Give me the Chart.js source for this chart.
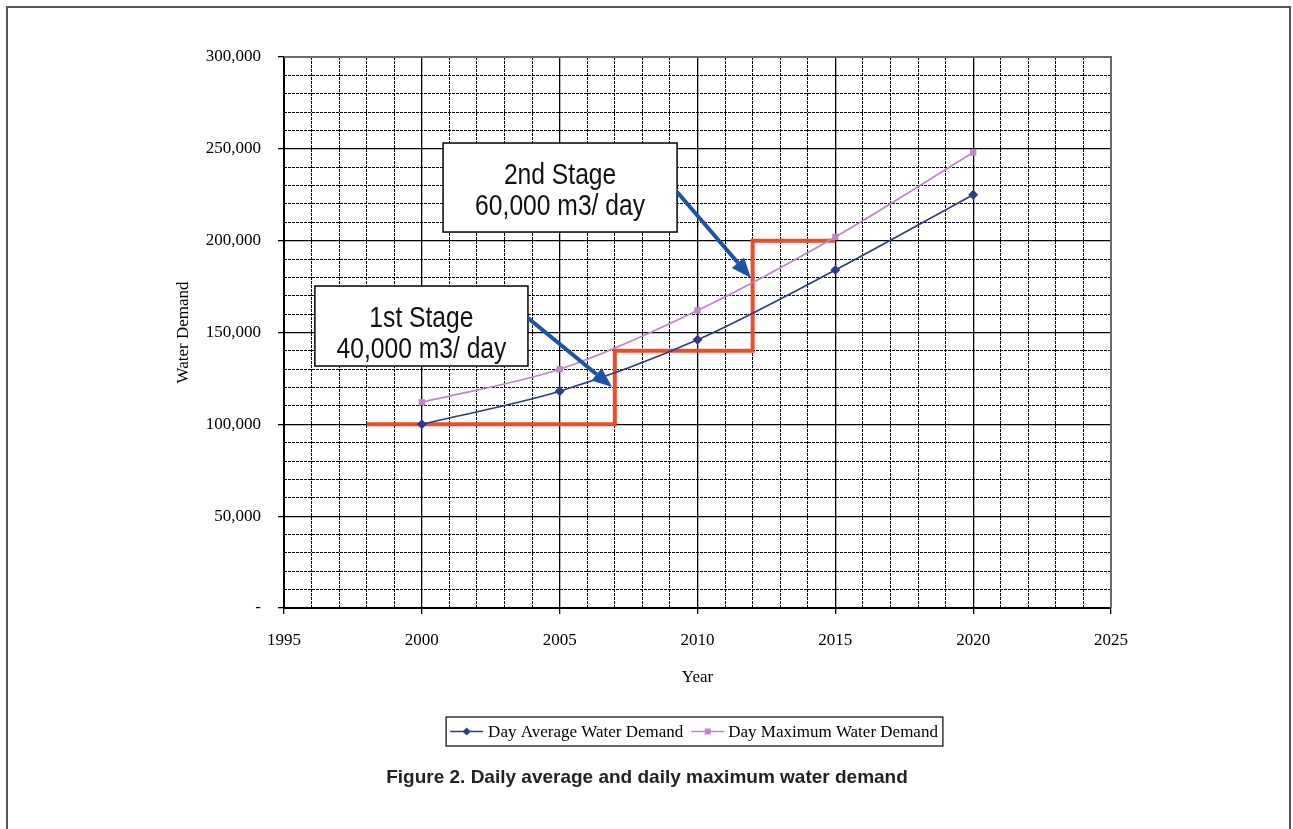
<!DOCTYPE html>
<html>
<head>
<meta charset="utf-8">
<script src="https://cdn.jsdelivr.net/npm/chart.js@4.4.1/dist/chart.umd.min.js"></script>
<style>
html, body { margin: 0; padding: 0; background: #fff; overflow: hidden; }
#wrap { position: relative; width: 1293px; height: 829px; }
</style>
</head>
<body>
<div id="wrap"><canvas id="myChart"></canvas></div>
<script>
var years = [2000, 2005, 2010, 2015, 2020];
var avgDemand = [100000, 118000, 146000, 184000, 225000];
var maxDemand = [112000, 130000, 162000, 202000, 248000];
var stageYears = [1998, 2007, 2012, 2015];
var stageCapacity = [100000, 140000, 200000, 200000];
var seriesNames = ["Day Average Water Demand", "Day Maximum Water Demand"];
var stageText = [["1st Stage", "40,000 m3/ day"], ["2nd Stage", "60,000 m3/ day"]];
var figureTitle = "Figure 2. Daily average and daily maximum water demand";

// callout boxes + arrows, given in data units (year, m3/day)
var callouts = [
  {box: [1996.12, 175300, 2003.85, 131750], from: [2003.85, 157900], to: [2006.9, 120330]},
  {box: [2000.77, 253170, 2009.26, 204700], from: [2009.26, 226500], to: [2011.94, 179700]}
];

var avgColor = "#2E3B8C";
var maxColor = "#BE86C6";
var stageColor = "#EA4D2A";
var arrowColor = "#1B54A6";
var serif = "'Liberation Serif', 'Times New Roman', serif";
var sans = "'Liberation Sans', Arial, sans-serif";

function points(xs, ys) {
  return xs.map(function (x, i) { return {x: x, y: ys[i]}; });
}

function drawArrow(ctx, x1, y1, x2, y2) {
  var ang = Math.atan2(y2 - y1, x2 - x1);
  var hl = 20, hw = 8;
  var bx = x2 - hl * Math.cos(ang), by = y2 - hl * Math.sin(ang);
  ctx.strokeStyle = arrowColor;
  ctx.fillStyle = arrowColor;
  ctx.lineWidth = 4;
  ctx.beginPath();
  ctx.moveTo(x1, y1);
  ctx.lineTo(bx, by);
  ctx.stroke();
  ctx.beginPath();
  ctx.moveTo(x2, y2);
  ctx.lineTo(bx + hw * Math.sin(ang), by - hw * Math.cos(ang));
  ctx.lineTo(bx - hw * Math.sin(ang), by + hw * Math.cos(ang));
  ctx.closePath();
  ctx.fill();
}

// condensed text, like the narrow font of the original
function narrowText(ctx, txt, cx, y) {
  ctx.save();
  ctx.translate(cx, y);
  ctx.scale(0.85, 1);
  ctx.fillText(txt, 0, 0);
  ctx.restore();
}

function legendMark(ctx, x, y, color, diamond) {
  ctx.strokeStyle = color;
  ctx.fillStyle = color;
  ctx.lineWidth = 1.5;
  ctx.beginPath();
  ctx.moveTo(x, y);
  ctx.lineTo(x + 33, y);
  ctx.stroke();
  ctx.beginPath();
  if (diamond) {
    ctx.moveTo(x + 16.5, y - 4);
    ctx.lineTo(x + 20.5, y);
    ctx.lineTo(x + 16.5, y + 4);
    ctx.lineTo(x + 12.5, y);
    ctx.closePath();
    ctx.fill();
  } else {
    ctx.fillRect(x + 13.5, y - 3, 6, 6);
  }
}

var decor = {
  id: "decor",
  beforeDatasetsDraw: function (chart) {
    var ctx = chart.ctx, a = chart.chartArea;
    ctx.save();
    ctx.strokeStyle = "#6b6b6b";
    ctx.lineWidth = 2;
    ctx.beginPath();
    ctx.moveTo(a.left, a.top);
    ctx.lineTo(a.right, a.top);
    ctx.lineTo(a.right, a.bottom);
    ctx.stroke();
    ctx.restore();
  },
  afterDraw: function (chart) {
    var ctx = chart.ctx, a = chart.chartArea;
    var sx = chart.scales.x, sy = chart.scales.y;
    ctx.save();

    // outer frame
    ctx.strokeStyle = "#555";
    ctx.lineWidth = 2;
    ctx.beginPath();
    ctx.moveTo(7, 840);
    ctx.lineTo(7, 7);
    ctx.lineTo(1290, 7);
    ctx.lineTo(1290, 840);
    ctx.stroke();

    // callouts
    callouts.forEach(function (c, i) {
      var l = sx.getPixelForValue(c.box[0]), t = sy.getPixelForValue(c.box[1]);
      var r = sx.getPixelForValue(c.box[2]), b = sy.getPixelForValue(c.box[3]);
      ctx.fillStyle = "#fff";
      ctx.fillRect(l, t, r - l, b - t);
      ctx.strokeStyle = "#000";
      ctx.lineWidth = 1.5;
      ctx.strokeRect(l, t, r - l, b - t);
      ctx.fillStyle = "#111";
      ctx.font = "29px " + sans;
      ctx.textAlign = "center";
      ctx.textBaseline = "alphabetic";
      narrowText(ctx, stageText[i][0], (l + r) / 2, t + 41);
      narrowText(ctx, stageText[i][1], (l + r) / 2, t + 72);
      drawArrow(ctx, sx.getPixelForValue(c.from[0]), sy.getPixelForValue(c.from[1]),
        sx.getPixelForValue(c.to[0]), sy.getPixelForValue(c.to[1]));
    });

    // legend box
    ctx.font = "17px " + serif;
    var w1 = ctx.measureText(seriesNames[0]).width;
    var w2 = ctx.measureText(seriesNames[1]).width;
    var total = 4 + 33 + 5 + w1 + 8 + 33 + 4 + w2 + 5;
    var lx = (a.left + a.right) / 2 - total / 2 - 3;
    var ly = a.bottom + 109;
    ctx.strokeStyle = "#000";
    ctx.lineWidth = 1.2;
    ctx.strokeRect(lx, ly, total, 29);
    var my = ly + 14.5;
    legendMark(ctx, lx + 4, my, avgColor, true);
    ctx.fillStyle = "#000";
    ctx.textAlign = "left";
    ctx.textBaseline = "middle";
    ctx.fillText(seriesNames[0], lx + 42, my + 1);
    var x2 = lx + 42 + w1 + 8;
    legendMark(ctx, x2, my, maxColor, false);
    ctx.fillStyle = "#000";
    ctx.fillText(seriesNames[1], x2 + 37, my + 1);

    // figure caption
    ctx.font = "bold 19px " + sans;
    ctx.fillStyle = "#222";
    ctx.textAlign = "center";
    ctx.fillText(figureTitle, 647, a.bottom + 170);
    ctx.restore();
  }
};

new Chart("myChart", {
  type: "line",
  data: {
    datasets: [
      {
        label: seriesNames[0],
        data: points(years, avgDemand),
        borderColor: avgColor,
        backgroundColor: avgColor,
        borderWidth: 1.7,
        pointStyle: "rectRot",
        pointRadius: 5,
        pointBorderWidth: 0,
        tension: 0.3,
        xAxisID: "x",
        yAxisID: "y"
      },
      {
        label: seriesNames[1],
        data: points(years, maxDemand),
        borderColor: maxColor,
        backgroundColor: maxColor,
        borderWidth: 1.7,
        pointStyle: "rect",
        pointRadius: 4.5,
        pointBorderWidth: 0,
        tension: 0.3,
        xAxisID: "x",
        yAxisID: "y"
      },
      {
        label: "Stage",
        data: points(stageYears, stageCapacity),
        borderColor: stageColor,
        borderWidth: 4,
        stepped: "before",
        pointRadius: 0,
        borderJoinStyle: "miter",
        xAxisID: "x",
        yAxisID: "y"
      }
    ]
  },
  options: {
    responsive: true,
    maintainAspectRatio: false,
    animation: false,
    devicePixelRatio: 1,
    layout: {padding: {left: 170, right: 182, top: 57, bottom: 141}},
    plugins: {legend: {display: false}, tooltip: {enabled: false}},
    scales: {
      xMinor: {
        type: "linear", position: "bottom", min: 1995, max: 2025,
        ticks: {stepSize: 1, display: false},
        grid: {color: "#000", lineWidth: 1, drawTicks: false, z: -1},
        border: {display: false, dash: [3, 1]},
        afterFit: function (s) { s.height = 0; }
      },
      yMinor: {
        type: "linear", position: "left", min: 0, max: 300000,
        ticks: {stepSize: 10000, display: false},
        grid: {color: "#000", lineWidth: 1, drawTicks: false, z: -1},
        border: {display: false, dash: [3, 1]},
        afterFit: function (s) { s.width = 0; }
      },
      x: {
        type: "linear", position: "bottom", min: 1995, max: 2025,
        ticks: {
          stepSize: 5, color: "#000", padding: 16, maxRotation: 0,
          font: {family: serif, size: 17},
          callback: function (v) { return String(v); }
        },
        grid: {color: "#000", lineWidth: 1.3, tickLength: 6},
        border: {color: "#000", width: 2},
        title: {display: true, text: "Year", color: "#000", font: {family: serif, size: 17}, padding: {top: 0, bottom: 0}},
        afterFit: function (s) { s.height = 80; }
      },
      y: {
        type: "linear", position: "left", min: 0, max: 300000,
        ticks: {
          stepSize: 50000, color: "#000", padding: 17,
          font: {family: serif, size: 17},
          callback: function (v) { return v === 0 ? "-" : v.toLocaleString("en-US"); }
        },
        grid: {color: "#000", lineWidth: 1.3, tickLength: 6},
        border: {color: "#000", width: 2},
        title: {display: true, text: "Water Demand", color: "#000", font: {family: serif, size: 17}, padding: {top: 3, bottom: 0}},
        afterFit: function (s) { s.width = 114; }
      }
    }
  },
  plugins: [decor]
});
</script>
</body>
</html>
